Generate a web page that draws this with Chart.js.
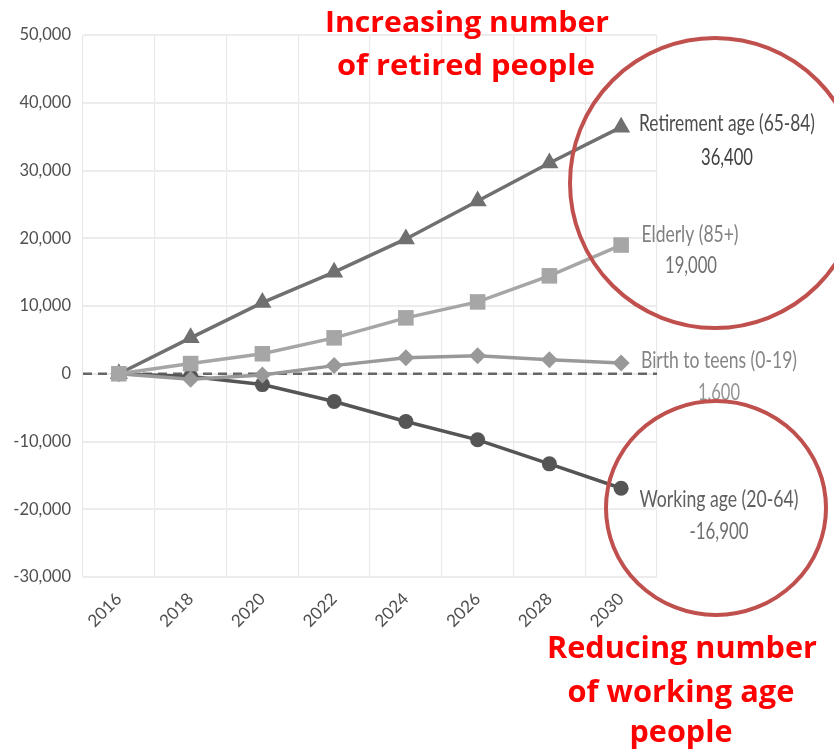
<!DOCTYPE html>
<html><head><meta charset="utf-8">
<script src="https://cdn.jsdelivr.net/npm/chart.js@4"></script>
<style>html,body{margin:0;padding:0;background:#fff}#wrap{width:834px;height:754px;position:relative}</style>
</head><body><div id="wrap"><canvas id="c"></canvas></div>
<script>
const years = ['2016','2018','2020','2022','2024','2026','2028','2030'];
const retirement = [0, 5300, 10500, 15000, 19900, 25500, 31100, 36400];
const elderly = [0, 1500, 2950, 5300, 8250, 10600, 14450, 19000];
const birthTeens = [0, -800, -200, 1200, 2350, 2650, 2050, 1600];
const working = [0, -400, -1600, -4100, -7050, -9750, -13300, -16900];
const seriesNames = ['Retirement age (65-84)', 'Elderly (85+)', 'Birth to teens (0-19)', 'Working age (20-64)'];
const endValues = ['36,400', '19,000', '1,600', '-16,900'];
const topNote = ['Increasing number', 'of retired people'];
const bottomNote = ['Reducing number', 'of working age', 'people'];

function fitText(ctx, text, cx, base, font, w, color) {
  ctx.save();
  ctx.font = font;
  const m = ctx.measureText(text).width;
  ctx.translate(cx, base);
  ctx.scale(w / m, 1);
  ctx.fillStyle = color;
  ctx.textAlign = 'center';
  ctx.textBaseline = 'alphabetic';
  ctx.fillText(text, 0, 0);
  ctx.restore();
}

const zeroLine = {
  id: 'zeroLine',
  beforeDatasetsDraw(chart) {
    const {ctx, chartArea, scales} = chart;
    const y = scales.y.getPixelForValue(0);
    ctx.save();
    ctx.strokeStyle = '#666';
    ctx.lineWidth = 2.5;
    ctx.setLineDash([9, 6]);
    ctx.beginPath();
    ctx.moveTo(chartArea.left, y);
    ctx.lineTo(chartArea.right, y);
    ctx.stroke();
    ctx.restore();
  }
};

const notes = {
  id: 'notes',
  afterDraw(chart) {
    const ctx = chart.ctx;
    const g = "'Lato'";
    fitText(ctx, seriesNames[0], 727, 131, `24px ${g}`, 176, '#4d4d4d');
    fitText(ctx, endValues[0], 727, 165, `24px ${g}`, 52, '#404040');
    fitText(ctx, seriesNames[1], 690, 242, `24px ${g}`, 97, '#808080');
    fitText(ctx, endValues[1], 691, 273, `24px ${g}`, 52, '#707070');
    fitText(ctx, seriesNames[2], 719, 368, `24px ${g}`, 156, '#858585');
    fitText(ctx, endValues[2], 719, 400, `24px ${g}`, 42, '#949494');
    fitText(ctx, seriesNames[3], 719, 507, `24px ${g}`, 159, '#606060');
    fitText(ctx, endValues[3], 719, 539, `24px ${g}`, 59, '#707070');
    ctx.save();
    ctx.strokeStyle = '#c0504d';
    ctx.lineWidth = 4;
    ctx.beginPath();
    ctx.arc(715, 183, 145, 0, Math.PI * 2);
    ctx.stroke();
    ctx.beginPath();
    ctx.ellipse(716, 508, 110, 107, 0, 0, Math.PI * 2);
    ctx.stroke();
    ctx.restore();
    const r = "bold 28px 'Open Sans'";
    fitText(ctx, topNote[0], 467, 32, r, 284, '#ff0000');
    fitText(ctx, topNote[1], 466, 75, r, 258, '#ff0000');
    const r2 = "bold 31px 'Open Sans'";
    fitText(ctx, bottomNote[0], 682, 658, r2, 270, '#ff0000');
    fitText(ctx, bottomNote[1], 681, 702, r2, 227, '#ff0000');
    fitText(ctx, bottomNote[2], 681, 742, r2, 103, '#ff0000');
  }
};

const mk = (label, data, color, style, radius, order) => ({
  label, data, borderColor: color, backgroundColor: color,
  pointBackgroundColor: color, pointBorderColor: color, pointBorderWidth: 0,
  pointStyle: style, pointRadius: radius, pointHoverRadius: radius,
  borderWidth: 3.5, tension: 0, order
});

new Chart(document.getElementById('c'), {
  type: 'line',
  data: {
    labels: years,
    datasets: [
      mk(seriesNames[0], retirement, '#707070', 'triangle', 10.5, 2),
      mk(seriesNames[1], elderly, '#a6a6a6', 'rect', 11, 0),
      mk(seriesNames[2], birthTeens, '#999999', 'rectRot', 8.5, 1),
      mk(seriesNames[3], working, '#555555', 'circle', 7.5, 3)
    ]
  },
  options: {
    responsive: true, maintainAspectRatio: false, animation: false,
    events: [],
    layout: {padding: {left: 0, right: 177, top: 35, bottom: 0}},
    plugins: {legend: {display: false}, tooltip: {enabled: false}},
    scales: {
      x: {
        offset: true,
        grid: {offset: true, color: '#e9e9e9', lineWidth: 1.2, drawTicks: false},
        border: {display: false},
        ticks: {minRotation: 45, maxRotation: 45, padding: 12, color: '#4f4f4f', font: {family: 'Lato', size: 17}},
        afterFit(s) { s.height = 177; }
      },
      y: {
        min: -30000, max: 50000,
        ticks: {stepSize: 10000, padding: 12, color: '#4f4f4f', font: {family: 'Lato', size: 16.5},
          callback: v => v.toLocaleString('en-US')},
        grid: {color: '#ececec', lineWidth: 2, drawTicks: false},
        border: {display: false},
        afterFit(s) { s.width = 83; }
      }
    }
  },
  plugins: [zeroLine, notes]
});
</script>
</body></html>
